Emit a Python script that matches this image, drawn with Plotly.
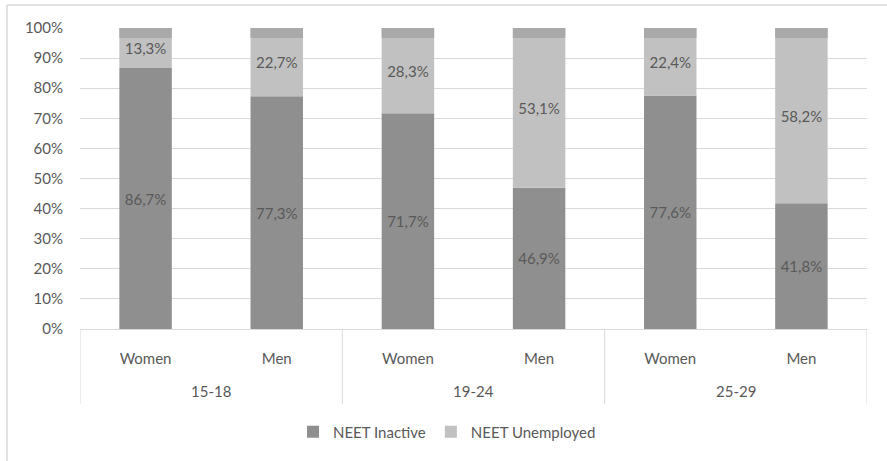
import plotly.graph_objects as go

age_groups = ["15-18", "19-24", "25-29"]
genders = ["Women", "Men", "Women", "Men", "Women", "Men"]
neet_inactive = [86.7, 77.3, 71.7, 46.9, 77.6, 41.8]
neet_unemployed = [13.3, 22.7, 28.3, 53.1, 22.4, 58.2]
top_band = [3.3, 3.3, 3.3, 3.3, 3.3, 3.3]
y_ticks = [0, 10, 20, 30, 40, 50, 60, 70, 80, 90, 100]

FONT = "Lato, Open Sans, sans-serif"
TXT = "#595959"
GRID = "#d9d9d9"
FS = 15

def fmt(v):
    return f"{v:.1f}%".replace(".", ",")

pos = list(range(len(genders)))

fig = go.Figure()
fig.add_trace(go.Bar(
    x=pos, y=neet_inactive, base=[0] * len(pos), name="NEET Inactive",
    marker=dict(color="#8f8f8f", line=dict(width=0)),
    text=[fmt(v) for v in neet_inactive], textposition="inside",
    insidetextanchor="middle", textangle=0, constraintext="none",
    textfont=dict(color=TXT, size=FS, family=FONT), hoverinfo="skip",
))
fig.add_trace(go.Bar(
    x=pos, y=neet_unemployed, base=neet_inactive, name="NEET Unemployed",
    marker=dict(color="#c1c1c1", line=dict(width=0)),
    text=[fmt(v) for v in neet_unemployed], textposition="inside",
    insidetextanchor="middle", textangle=0, constraintext="none",
    textfont=dict(color=TXT, size=FS, family=FONT), hoverinfo="skip",
))
fig.add_trace(go.Bar(
    x=pos, y=top_band, base=[100 - v for v in top_band], name="",
    marker=dict(color="#a9a9a9", line=dict(width=0)),
    showlegend=False, hoverinfo="skip",
))

L, R, T, B = 80, 20, 28, 132
W, H = 887, 461
pw, ph = W - L - R, H - T - B

def py(p):
    return (H - B - p) / ph

def px(p):
    return (p - L) / pw

shapes = [
    dict(type="line", xref="paper", yref="paper",
         x0=px(7), x1=px(887), y0=py(5), y1=py(5),
         line=dict(color=GRID, width=1.5)),
    dict(type="line", xref="paper", yref="paper",
         x0=px(7), x1=px(7), y0=py(5), y1=py(461),
         line=dict(color=GRID, width=1.5)),
]
n_groups = len(age_groups)
per = len(genders) // n_groups
for g in range(n_groups + 1):
    xv = g * per - 0.5
    shapes.append(dict(type="line", xref="x", yref="paper",
                       x0=xv, x1=xv, y0=0, y1=py(404),
                       line=dict(color=GRID, width=1)))

annotations = []
for g, name in enumerate(age_groups):
    annotations.append(dict(
        x=g * per + (per - 1) / 2, y=py(391), xref="x", yref="paper",
        text=name, showarrow=False, xanchor="center", yanchor="middle",
        font=dict(size=FS, color=TXT, family=FONT)))

fig.update_layout(
    width=W, height=H,
    margin=dict(l=L, r=R, t=T, b=B, autoexpand=False),
    barmode="overlay", bargap=0.6,
    plot_bgcolor="white", paper_bgcolor="white",
    font=dict(family=FONT, size=FS, color=TXT),
    showlegend=True,
    legend=dict(orientation="h", x=px(447), xanchor="center",
                y=py(432), yanchor="middle",
                font=dict(size=FS, color=TXT), traceorder="normal",
                itemwidth=30, bgcolor="rgba(0,0,0,0)"),
    yaxis=dict(range=[0, 100], tickvals=y_ticks,
               ticktext=[f"{v}%" for v in y_ticks],
               showgrid=True, gridcolor=GRID, gridwidth=1,
               zeroline=False, showline=False, ticks="",
               ticklabelstandoff=16, automargin=False,
               tickfont=dict(size=FS, color=TXT)),
    xaxis=dict(range=[-0.5, len(genders) - 0.5], tickvals=pos,
               ticktext=genders, showgrid=False, zeroline=False,
               showline=True, linecolor=GRID, linewidth=1, ticks="",
               ticklabelstandoff=16, automargin=False,
               tickfont=dict(size=FS, color=TXT)),
    shapes=shapes,
    annotations=annotations,
)

fig.write_html(
    "out.html",
    config={"displayModeBar": False},
    post_script="document.body.style.margin='0';document.body.style.overflow='hidden';",
)
